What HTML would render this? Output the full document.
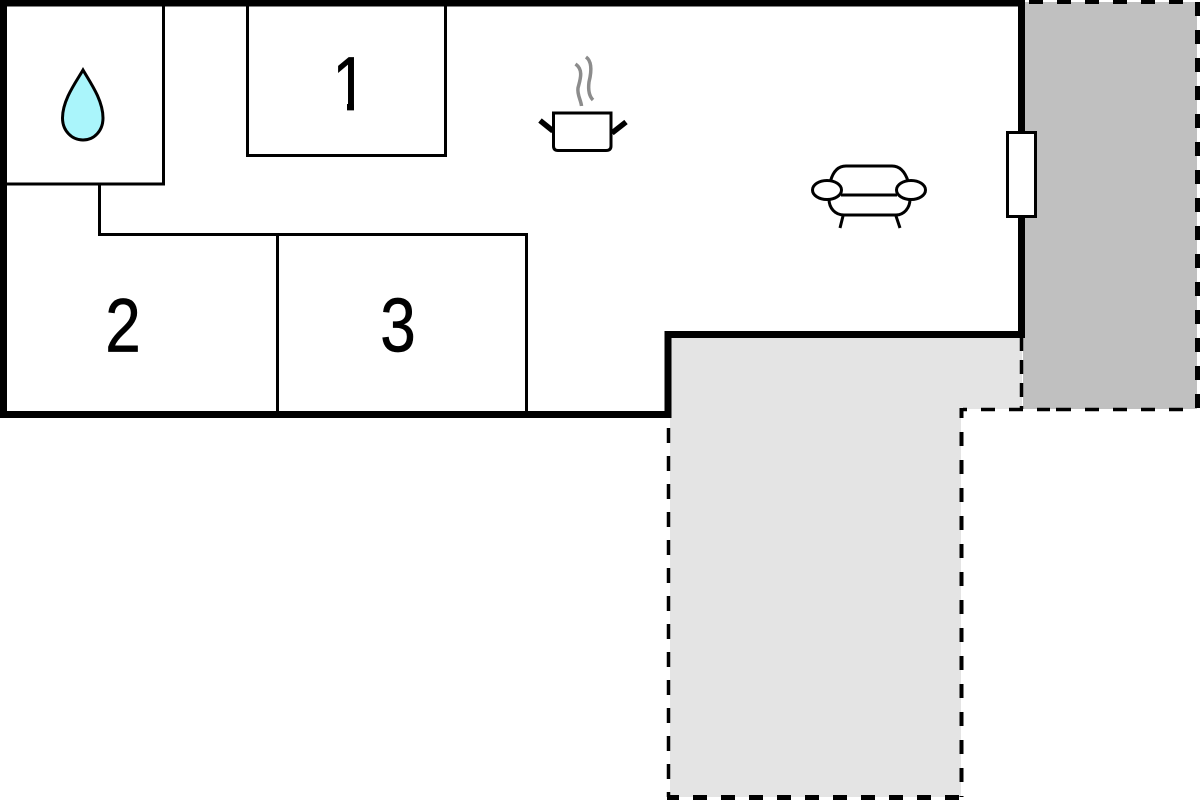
<!DOCTYPE html>
<html>
<head>
<meta charset="utf-8">
<style>
html,body{margin:0;padding:0;background:#fff;width:1200px;height:800px;overflow:hidden}
svg{display:block}
text{font-family:"Liberation Sans",sans-serif;font-size:76px;fill:#000;stroke:#000;stroke-width:.7px;text-anchor:middle}
</style>
</head>
<body>
<svg width="1200" height="800" viewBox="0 0 1200 800" xmlns="http://www.w3.org/2000/svg">
<defs>
  <clipPath id="one"><path d="M325 45H354V111H347V101H325Z"/></clipPath>
</defs>
<rect width="1200" height="800" fill="#fff"/>
<!-- terrace fills -->
<path d="M670 336H1022V409H961V797H670Z" fill="#e4e4e4"/>
<rect x="1023" y="2" width="174" height="407" fill="#c0c0c0"/>
<!-- dashed outlines -->
<g fill="none" stroke="#000" stroke-width="3">
  <path d="M1029 2H1197" stroke-dasharray="14 14" stroke-width="4"/>
  <path d="M1197.500 2V409" stroke-dasharray="14 14" stroke-width="5"/>
  <path d="M1021.500 337V409" stroke-dasharray="14 9" stroke-width="3.500"/>
  <path d="M963 409.500H1197" stroke-dasharray="4 14 14 14 14 14 13 6 15 14 14 14 14 14 14 14 14 14 14 14" stroke-width="3.500"/>
  <path d="M961.500 408V418M961.500 432V797" stroke-dasharray="14 14" stroke-width="4"/>
  <path d="M668.500 428V797" stroke-dasharray="15 13" stroke-width="3.500"/>
  <path d="M667 797.500H962" stroke-dasharray="12 14 14 14 14 14 14 14 14 14 14 14 14 14 14 14 14 14 14 14 14 14" stroke-width="5"/>
</g>
<!-- thin walls -->
<g fill="none" stroke="#000" stroke-width="3">
  <path d="M163.500 4V184H4"/>
  <path d="M99.500 184V234.500H526.500V414"/>
  <path d="M277.500 234V414"/>
  <path d="M247.500 4V155.500H445.500V4"/>
</g>
<!-- thick walls -->
<path d="M3.500 3H1021.500V334.500H668V414.500H3.500Z" fill="none" stroke="#000" stroke-width="7"/>
<!-- window -->
<rect x="1007.500" y="132.500" width="28" height="84" fill="#fff" stroke="#000" stroke-width="3"/>
<!-- labels -->
<g clip-path="url(#one)"><text transform="translate(350 110) scale(.84 1)">1</text></g>
<text transform="translate(123 351.500) scale(.84 1)">2</text>
<text transform="translate(398 351.500) scale(.84 1)">3</text>
<!-- water drop -->
<path d="M83 70C76 82 62.500 100 62.500 118C62.500 131 72 140 83 140C94 140 103 131 103 118C103 100 90 82 83 70Z" fill="#aaf5fb" stroke="#000" stroke-width="3"/>
<!-- pot -->
<path d="M575.500 64C584 70 580 80 578 88C577 95 581 100 581.500 106" fill="none" stroke="#8c8c8c" stroke-width="3.500"/>
<path d="M586 57C593 62 591 74 589 82C588 90 589 96 593 100" fill="none" stroke="#8c8c8c" stroke-width="3.500"/>
<path d="M553.500 113H611V146Q611 150.500 606 150.500H558Q553.500 150.500 553.500 146Z" fill="#fff" stroke="#000" stroke-width="3"/>
<path d="M540 120.500L553 131M626 122L612 133" fill="none" stroke="#000" stroke-width="5.500"/>
<!-- sofa -->
<g fill="none" stroke="#000" stroke-width="3">
  <path d="M830.500 181C833 172 838 166 846 166H892C900 166 905 172 908 181"/>
  <path d="M841 195H897"/>
  <path d="M829 199C829 208 835 215 844 215H896C904 215 910 208 910 199"/>
  <path d="M843 216L840 228M896 216L900 228"/>
  <ellipse cx="827" cy="190" rx="14.500" ry="9.500" fill="#fff"/>
  <ellipse cx="911" cy="190" rx="14.500" ry="9.500" fill="#fff"/>
</g>
</svg>
</body>
</html>
